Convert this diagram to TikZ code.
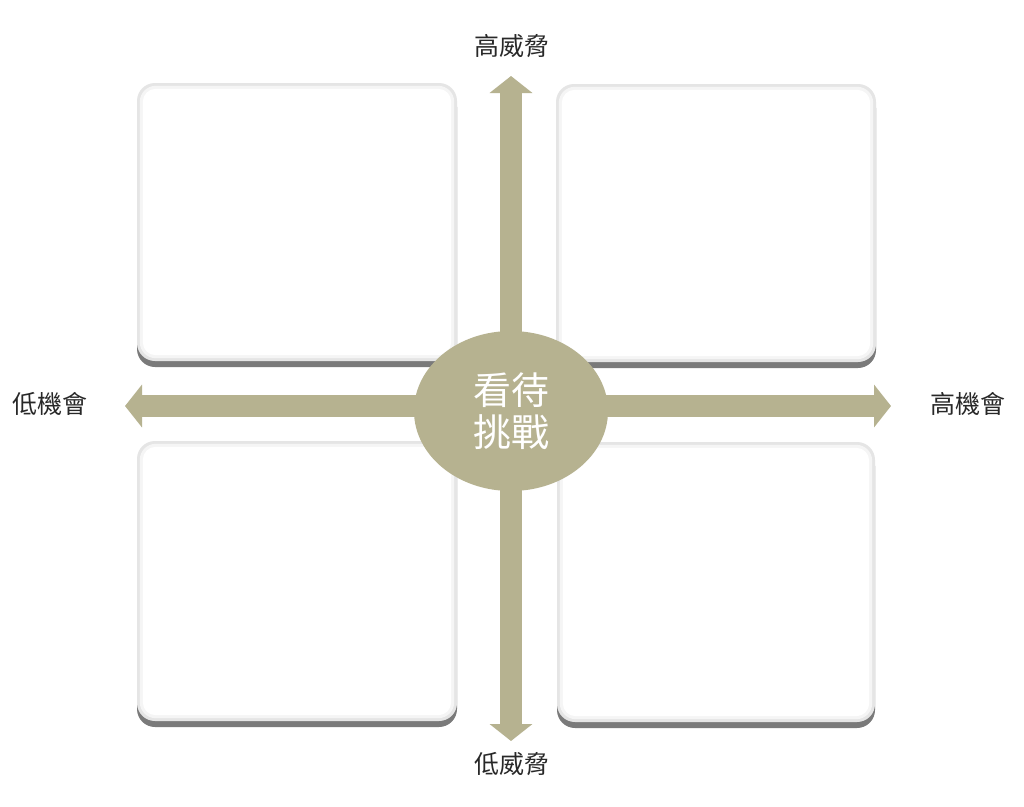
\documentclass[tikz,border=0pt]{standalone}
\usepackage{fontspec}
\newfontfamily\cjk{Noto Sans CJK TC}
\usetikzlibrary{arrows.meta,shapes.geometric,shadows}
\definecolor{olive}{RGB}{182,178,144}
\definecolor{labelgray}{RGB}{40,40,40}
\tikzset{
  box/.style={rectangle, rounded corners=18pt, fill=black!10, draw=none,
    drop shadow={shadow xshift=0pt, shadow yshift=-6pt, fill=black!65, opacity=0.8}},
  ring/.style={rounded corners=16pt},
  axis/.style={draw=olive, line width=22pt, -{Triangle[width=42pt,length=17pt]}},
  hub/.style={ellipse, fill=olive, text=white, minimum width=194pt, minimum height=160pt,
    inner sep=0pt, align=center, font=\cjk\fontsize{38}{42}\selectfont},
  lab/.style={text=labelgray, font=\cjk\fontsize{25}{28}\selectfont, inner sep=0pt}
}
\newcommand\quadbox[4]{%
  \node[box, minimum width=#3pt, minimum height=#4pt] (#1) at #2 {};
  \fill[black!4, ring] ([shift={(3pt,-3pt)}]#1.north west) rectangle ([shift={(-3pt,3pt)}]#1.south east);
  \fill[white, rounded corners=13pt] ([shift={(6pt,-6pt)}]#1.north west) rectangle ([shift={(-6pt,6pt)}]#1.south east);
}
\begin{document}
\begin{tikzpicture}[x=1pt,y=-1pt]
\useasboundingbox[fill=white] (0,0) rectangle (1024,806);
\quadbox{tl}{(297,222)}{320}{278}
\quadbox{tr}{(716,223)}{320}{278}
\quadbox{bl}{(297,581)}{320}{280}
\quadbox{br}{(716,582)}{318}{280}
\coordinate (c) at (511,406);
\coordinate (top) at (511,76);
\coordinate (bot) at (511,741);
\coordinate (lft) at (125,406);
\coordinate (rgt) at (891,406);
\draw[axis] (c) -- (top);
\draw[axis] (c) -- (bot);
\draw[axis] (c) -- (lft);
\draw[axis] (c) -- (rgt);
\node[hub] (hub) at (511,411) {看待\\挑戰};
\node[lab] (ht) at (512,46) {高威脅};
\node[lab] (lt) at (512,764) {低威脅};
\node[lab] (lo) at (50,404) {低機會};
\node[lab] (ho) at (968,404) {高機會};
\end{tikzpicture}
\end{document}
